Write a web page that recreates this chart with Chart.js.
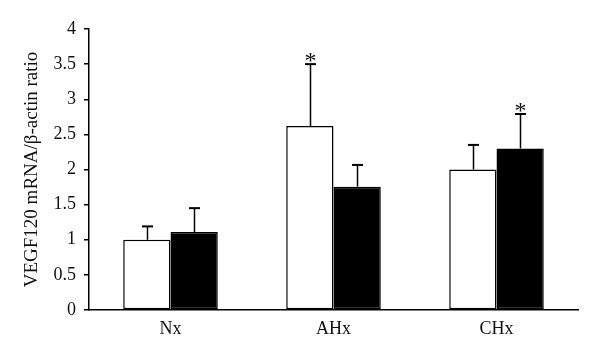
<!DOCTYPE html>
<html><head><meta charset="utf-8">
<script src="https://cdn.jsdelivr.net/npm/chart.js@4/dist/chart.umd.min.js"></script>
<style>html,body{margin:0;padding:0;background:#fff}#wrap{width:600px;height:356px}</style>
</head><body><div id="wrap"><canvas id="c" width="600" height="356"></canvas></div>
<script>
const categories = ['Nx', 'AHx', 'CHx'];
const whiteValues = [1.0, 2.62, 2.0];
const whiteErrors = [0.19, 0.88, 0.35];
const blackValues = [1.11, 1.755, 2.3];
const blackErrors = [0.34, 0.31, 0.49];
const whiteStars = [false, true, false];
const blackStars = [false, false, true];
const yTicks = [0, 0.5, 1, 1.5, 2, 2.5, 3, 3.5, 4];
const yTitle = 'VEGF120 mRNA/\u03B2-actin ratio';

const errors = [whiteErrors, blackErrors];
const stars = [whiteStars, blackStars];
const FONT = '"Liberation Serif", "Times New Roman", serif';

const errorPlugin = {
  id: 'errorBars',
  afterDatasetsDraw(chart) {
    const ctx = chart.ctx;
    const y = chart.scales.y;
    chart.data.datasets.forEach((ds, di) => {
      const meta = chart.getDatasetMeta(di);
      meta.data.forEach((bar, i) => {
        const v = ds.data[i];
        const top = y.getPixelForValue(v + errors[di][i]);
        const base = y.getPixelForValue(v);
        const x = Math.round(bar.x) + 0.5;
        ctx.save();
        ctx.strokeStyle = '#000';
        ctx.lineWidth = 1.5;
        ctx.beginPath();
        ctx.moveTo(x, base);
        ctx.lineTo(x, top);
        ctx.stroke();
        ctx.lineWidth = 2;
        ctx.beginPath();
        ctx.moveTo(x - 5.5, top);
        ctx.lineTo(x + 5.5, top);
        ctx.stroke();
        if (stars[di][i]) {
          ctx.fillStyle = '#111';
          ctx.font = '24px ' + FONT;
          ctx.textAlign = 'center';
          ctx.textBaseline = 'alphabetic';
          ctx.fillText('*', x, top + 4);
        }
        ctx.restore();
      });
    });
  }
};

new Chart(document.getElementById('c'), {
  type: 'bar',
  data: {
    labels: categories,
    datasets: [
      { data: whiteValues, backgroundColor: '#fff', borderColor: '#000', borderWidth: 1.5, borderSkipped: false },
      { data: blackValues, backgroundColor: '#000', borderColor: '#000', borderWidth: 1.5, borderSkipped: false }
    ]
  },
  options: {
    responsive: false,
    animation: false,
    devicePixelRatio: 1,
    layout: { padding: { top: 29, right: 22, left: 0, bottom: 0 } },
    plugins: { legend: { display: false }, tooltip: { enabled: false } },
    datasets: { bar: { categoryPercentage: 0.58, barPercentage: 1.0 } },
    scales: {
      x: {
        grid: { display: false },
        border: { display: true, color: '#000', width: 1.5 },
        ticks: { color: '#111', font: { family: FONT, size: 18 }, padding: 0 },
        afterFit(s) { s.height = 46; }
      },
      y: {
        min: 0, max: 4,
        afterBuildTicks(s) { s.ticks = yTicks.map(v => ({ value: v })); },
        grid: { display: true, drawOnChartArea: false, drawTicks: true, tickLength: 5, color: '#000', lineWidth: 1.5 },
        border: { display: true, color: '#000', width: 1.5 },
        ticks: { color: '#111', font: { family: FONT, size: 18 }, padding: 8, callback: (v) => String(v) },
        title: { display: true, text: yTitle, color: '#111', font: { family: FONT, size: 19 }, padding: { top: 21, bottom: 0 } },
        afterFit(s) { s.width = 89; }
      }
    }
  },
  plugins: [errorPlugin]
});
</script></body></html>
